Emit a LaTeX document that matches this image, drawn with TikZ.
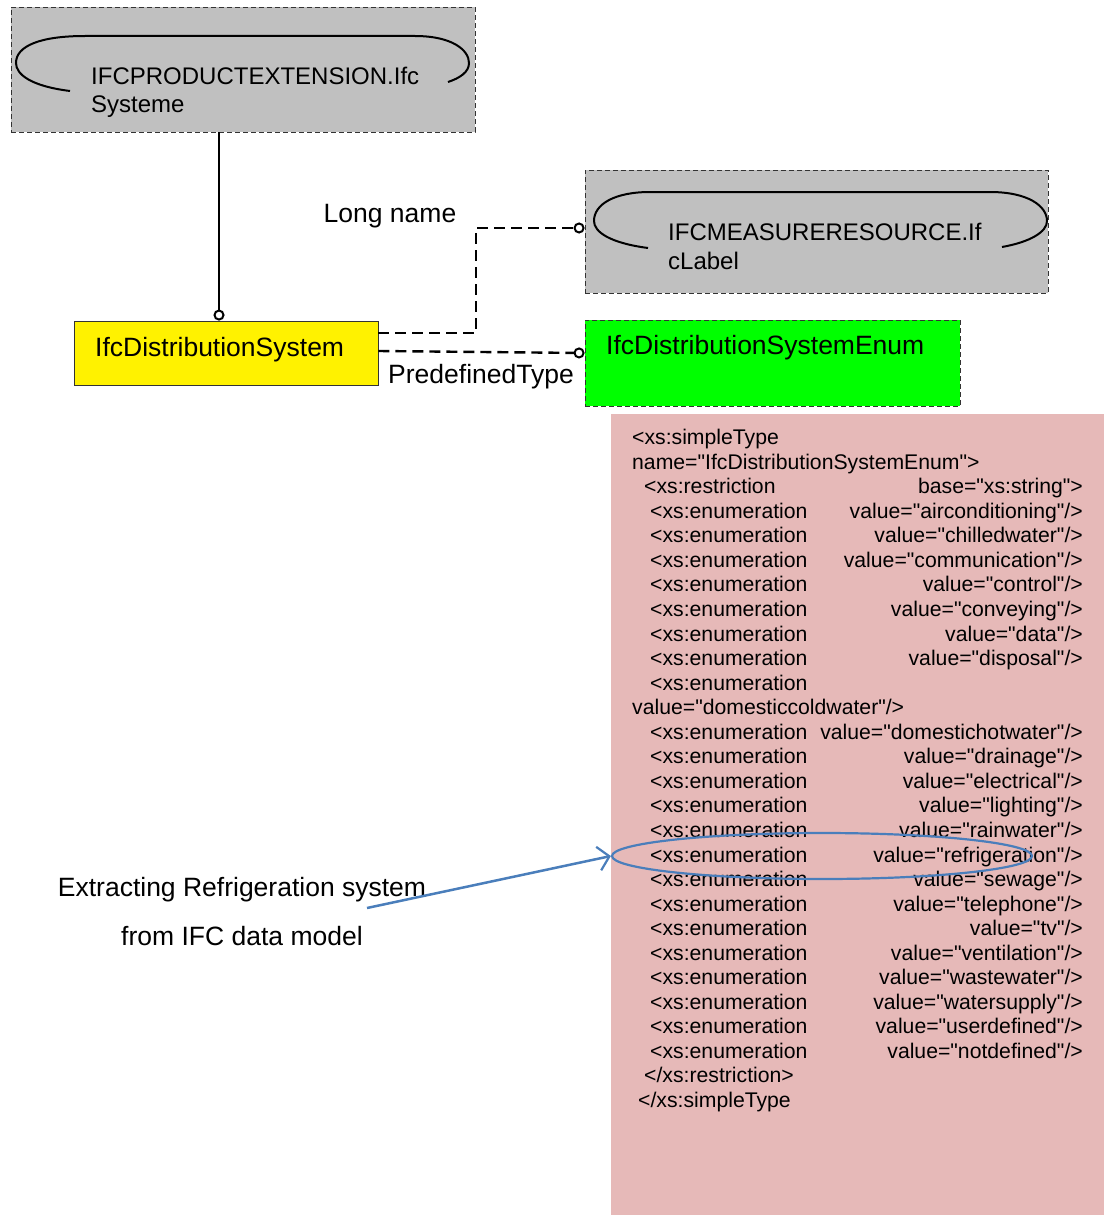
\documentclass[tikz,border=0pt]{standalone}
\usepackage{fontspec}
\setmainfont{Liberation Sans}[Ligatures=TeXOff]
\usetikzlibrary{arrows.meta,shapes.geometric}
\definecolor{boxgray}{RGB}{192,192,192}
\definecolor{xmlpink}{RGB}{230,185,184}
\definecolor{hlblue}{RGB}{74,126,187}
\begin{document}
\begin{tikzpicture}[x=1pt,y=-1pt,
  entitybox/.style={draw=black!80, line width=0.9pt, dash pattern=on 5pt off 3pt, fill=boxgray, inner sep=0pt},
  classbox/.style={draw=black!80, line width=0.9pt, fill=yellow, inner sep=0pt},
  enumbox/.style={draw=black!80, line width=0.9pt, dash pattern=on 5pt off 3pt, fill=green, inner sep=0pt},
  scroll/.style={draw=black, line width=2pt},
  relsolid/.style={draw=black, line width=2pt, -{Circle[open,length=11pt,line width=2pt]}},
  reldash/.style={draw=black, line width=2.4pt, dash pattern=on 11pt off 6pt, -{Circle[open,length=11pt,line width=2pt,sep=0pt]}},
  lbl/.style={inner sep=0pt, font=\fontsize{26.5}{30}\selectfont},
  sch/.style={inner sep=0pt, font=\fontsize{24}{28}\selectfont},
  xml/.style={inner sep=0pt, font=\fontsize{21.2}{24.5}\selectfont},
]
\useasboundingbox (0,0) rectangle (1109,1215);

% schema entities
\node[entitybox, minimum width=464pt, minimum height=125pt] (pe) at (243,69.5) {};
\draw[scroll] (70,91) .. controls (30,86) and (16,74) .. (16,63)
  .. controls (16,46) and (40,36) .. (85,36) -- (415,36)
  .. controls (452,36) and (469,50) .. (469,63)
  .. controls (469,72) and (460,78) .. (448,82);
\node[sch, anchor=mid west] (pet1) at (91,82) {IFCPRODUCTEXTENSION.Ifc};
\node[sch, anchor=mid west] (pet2) at (91,110) {Systeme};

\node[entitybox, minimum width=463pt, minimum height=123pt] (mr) at (816.5,231.5) {};
\draw[scroll] (648,248) .. controls (610,243) and (594,232) .. (594,221)
  .. controls (594,204) and (615,192) .. (650,192) -- (990,192)
  .. controls (1028,192) and (1047,206) .. (1047,221)
  .. controls (1047,232) and (1030,242) .. (1002,247);
\node[sch, anchor=mid west] (mrt1) at (668,238) {IFCMEASURERESOURCE.If};
\node[sch, anchor=mid west] (mrt2) at (668,267) {cLabel};

\node[classbox, minimum width=304pt, minimum height=64pt] (ds) at (226,353) {};
\node[lbl, anchor=mid west] (dst) at (95,354) {IfcDistributionSystem};

\node[enumbox, minimum width=375pt, minimum height=86pt] (en) at (772.5,363) {};
\node[lbl, anchor=mid west] (ent) at (606,352) {IfcDistributionSystemEnum};

% relations
\coordinate (c1) at (219,0);
\coordinate (c2) at (476,0);
\draw[relsolid] (pe.south -| c1) -- (ds.north -| c1);
\draw[reldash] (ds.east |- 0,333) -- (c2 |- 0,333) -- (c2 |- 0,228) -- (mr.west |- 0,228);
\draw[reldash] (ds.east |- 0,351) -- (en.west |- 0,353);
\node[lbl] (ln) at (390,216) {Long name};
\node[lbl] (pt) at (481,377) {PredefinedType};

% XML schema listing
\node[fill=xmlpink, inner sep=0pt, minimum width=493pt, minimum height=801pt] (xs) at (857.5,814.5) {};
\def\xl{632}\def\xr{644}\def\xe{650}\def\xv{1083}
\node[xml, anchor=mid west] (l1) at (\xl,442) {<xs:simpleType};
\node[xml, anchor=mid west] (l2) at (\xl,466.5) {name="IfcDistributionSystemEnum">};
\node[xml, anchor=mid west] (l3a) at (\xr,491) {<xs:restriction};
\node[xml, anchor=mid east] (l3b) at (\xv,491) {base="xs:string">};
\foreach \n/\v in {4/airconditioning,5/chilledwater,6/communication,7/control,8/conveying,9/data,10/disposal,
  13/domestichotwater,14/drainage,15/electrical,16/lighting,17/rainwater,18/refrigeration,19/sewage,
  20/telephone,21/tv,22/ventilation,23/wastewater,24/watersupply,25/userdefined,26/notdefined}{
  \node[xml, anchor=mid west] (e\n) at (\xe,{442+(\n-1)*24.55}) {<xs:enumeration};
  \node[xml, anchor=mid east] (v\n) at (\xv,{442+(\n-1)*24.55}) {value="\v"/>};
}
\node[xml, anchor=mid west] (e11) at (\xe,687.5) {<xs:enumeration};
\node[xml, anchor=mid west] (v12) at (\xl,712) {value="domesticcoldwater"/>};
\node[xml, anchor=mid west] (l27) at (\xr,1080) {</xs:restriction>};
\node[xml, anchor=mid west] (l28) at (638,1104.5) {</xs:simpleType};

% highlight and note
\node[draw=hlblue, line width=2.2pt, ellipse, inner sep=0pt, minimum width=420pt, minimum height=46pt] (hl) at (822,856) {};
\node[lbl] (n1) at (242,890) {Extracting Refrigeration system};
\node[lbl] (n2) at (242,936) {from IFC data model};
\coordinate (na) at (367,908);
\draw[hlblue, line width=2.5pt, -{Straight Barb[length=11pt,width=24pt,line width=2.2pt]}] (na) -- (hl.west);
\end{tikzpicture}
\end{document}
